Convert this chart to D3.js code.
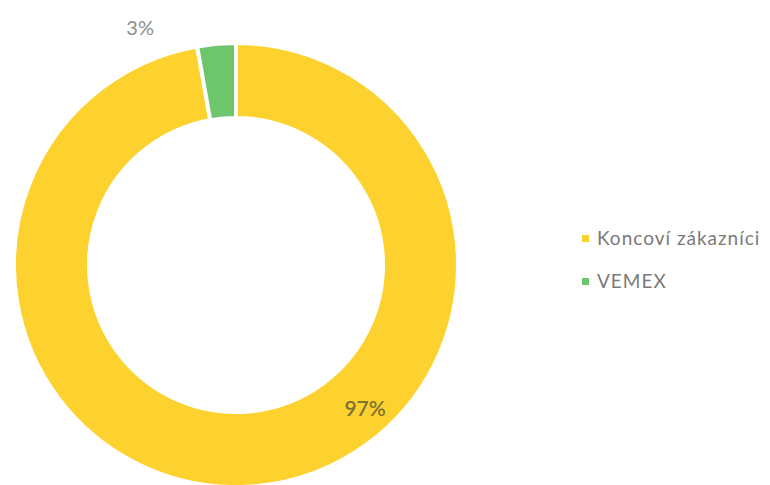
<!DOCTYPE html>
<html>
<head>
<meta charset="utf-8">
<script src="https://cdn.jsdelivr.net/npm/d3@7"></script>
<style>
  body { margin: 0; background: #fff; }
  text { font-family: Lato, "Open Sans", sans-serif; }
</style>
</head>
<body>
<div id="chart"></div>
<script>
// Data
const categories = ["Koncoví zákazníci", "VEMEX"];
const shares = [97.2, 2.8];
const colors = ["#FDD22F", "#6EC66C"];

const width = 770, height = 485;
const cx = 236, cy = 265;
const outerR = 222, innerR = 147;

const svg = d3.select("#chart")
    .append("svg")
    .attr("width", width)
    .attr("height", height);

const data = categories.map((c, i) => ({ name: c, value: shares[i], color: colors[i] }));

const pie = d3.pie()
    .sort(null)
    .value(d => d.value);

const arc = d3.arc()
    .innerRadius(innerR)
    .outerRadius(outerR);

const g = svg.append("g")
    .attr("transform", `translate(${cx},${cy})`);

const arcs = pie(data);

g.selectAll("path")
    .data(arcs)
    .join("path")
    .attr("d", arc)
    .attr("fill", d => d.data.color)
    .attr("stroke", "#fff")
    .attr("stroke-width", 4);

// Data labels (placed like the original, not at centroids)
const labelPos = [
    { angle: 138 * Math.PI / 180, r: 193, fill: "#807033", size: 21, weight: 600 },
    { angle: -22 * Math.PI / 180, r: 256, fill: "#8C8C8C", size: 20, weight: 400 }
];

g.selectAll("text.label")
    .data(arcs)
    .join("text")
    .attr("class", "label")
    .attr("x", (d, i) => Math.sin(labelPos[i].angle) * labelPos[i].r)
    .attr("y", (d, i) => -Math.cos(labelPos[i].angle) * labelPos[i].r)
    .attr("dy", "0.35em")
    .attr("text-anchor", "middle")
    .attr("font-size", (d, i) => labelPos[i].size)
    .attr("font-weight", (d, i) => labelPos[i].weight)
    .attr("fill", (d, i) => labelPos[i].fill)
    .text(d => Math.round(d.data.value) + "%");

// Legend
const legend = svg.append("g")
    .attr("transform", "translate(582,238)");

const item = legend.selectAll("g")
    .data(data)
    .join("g")
    .attr("transform", (d, i) => `translate(0,${i * 43})`);

item.append("rect")
    .attr("x", 0)
    .attr("y", -3)
    .attr("width", 7)
    .attr("height", 7)
    .attr("fill", d => d.color);

item.append("text")
    .attr("x", 15)
    .attr("y", 0)
    .attr("dy", "0.35em")
    .attr("font-size", 19)
    .attr("letter-spacing", 1)
    .attr("fill", "#7A7A7A")
    .text(d => d.name);
</script>
</body>
</html>
